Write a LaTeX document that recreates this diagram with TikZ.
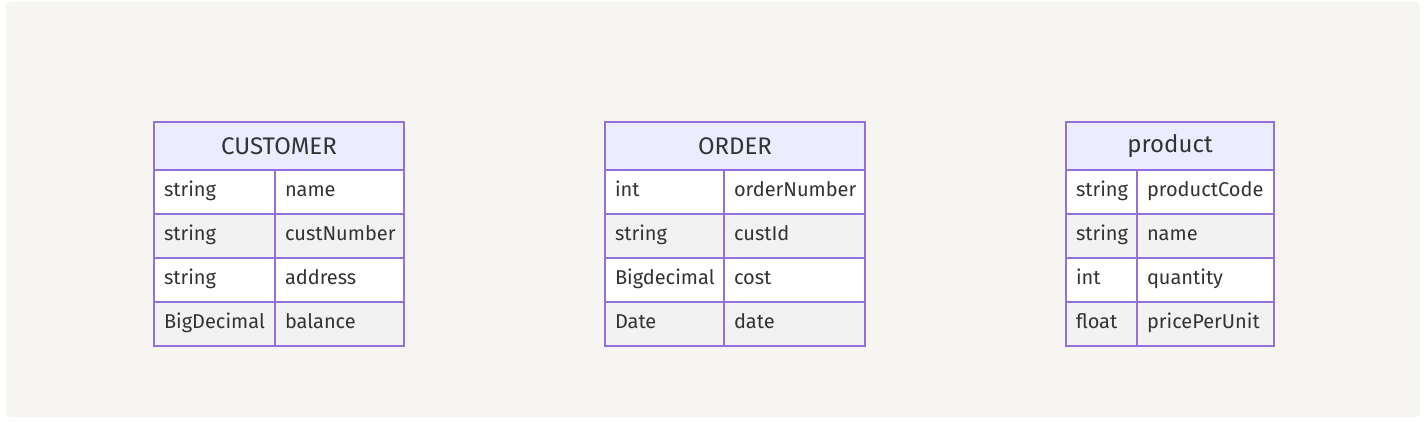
\documentclass[tikz,border=0pt]{standalone}
\usepackage{fontspec}
\setmainfont{Fira Sans}
\definecolor{bgcol}{HTML}{F6F5F2}
\definecolor{edgecol}{HTML}{9370DB}
\definecolor{hdrcol}{HTML}{ECECFF}
\definecolor{rowgray}{HTML}{F2F2F2}
\definecolor{txtcol}{HTML}{333333}
\tikzset{
  hdr/.style={draw=edgecol, fill=hdrcol, line width=1.3pt, minimum height=48pt,
    inner sep=0pt, text=txtcol, font=\fontsize{24}{28}\selectfont},
  cell/.style={draw=edgecol, line width=1.3pt, minimum height=44pt, inner sep=0pt,
    text=txtcol, font=\fontsize{20}{24}\selectfont}
}
\newcommand{\celltext}[2]{\parbox{#1}{\strut\hspace*{10pt}#2\hfill}}
\begin{document}
\begin{tikzpicture}[x=1pt, y=-1pt]
  % ozadje
  \useasboundingbox (0,0) rectangle (1426,422);
  \fill[bgcol, rounded corners=4pt] (6,2) rectangle (1420,417);
  % CUSTOMER
  \node[hdr, minimum width=250pt] (cust) at (279,146) {CUSTOMER};
  \foreach \t/\n/\f [count=\i] in {string/name/white, string/custNumber/rowgray,
      string/address/white, BigDecimal/balance/rowgray} {
    \node[cell, fill=\f, minimum width=121pt] (cust-t\i) at (214.5,148+44*\i)
      {\celltext{121pt}{\t}};
    \node[cell, fill=\f, minimum width=129pt] (cust-n\i) at (339.5,148+44*\i)
      {\celltext{129pt}{\n}};
  }
  % ORDER
  \node[hdr, minimum width=260pt] (ord) at (735,146) {ORDER};
  \foreach \t/\n/\f [count=\i] in {int/orderNumber/white, string/custId/rowgray,
      Bigdecimal/cost/white, Date/date/rowgray} {
    \node[cell, fill=\f, minimum width=119pt] (ord-t\i) at (664.5,148+44*\i)
      {\celltext{119pt}{\t}};
    \node[cell, fill=\f, minimum width=141pt] (ord-n\i) at (794.5,148+44*\i)
      {\celltext{141pt}{\n}};
  }
  % product
  \node[hdr, minimum width=208pt] (prod) at (1170,146) {product};
  \foreach \t/\n/\f [count=\i] in {string/productCode/white, string/name/rowgray,
      int/quantity/white, float/pricePerUnit/rowgray} {
    \node[cell, fill=\f, minimum width=71pt] (prod-t\i) at (1101.5,148+44*\i)
      {\celltext{71pt}{\t}};
    \node[cell, fill=\f, minimum width=137pt] (prod-n\i) at (1205.5,148+44*\i)
      {\celltext{137pt}{\n}};
  }
\end{tikzpicture}
\end{document}
